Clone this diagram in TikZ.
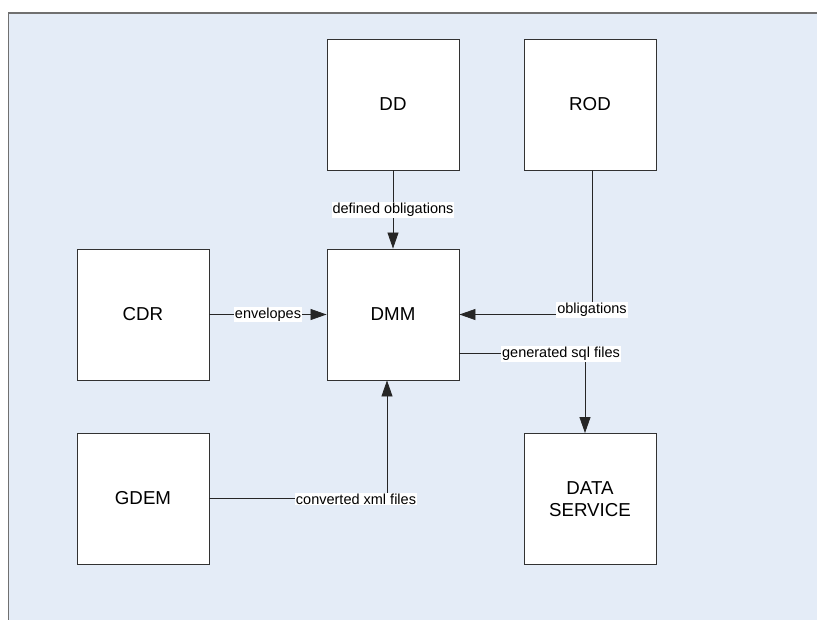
\documentclass[tikz,border=0pt]{standalone}
\usepackage{fontspec}
\setmainfont{Liberation Sans}
\usetikzlibrary{arrows.meta,calc}
\definecolor{panelblue}{RGB}{228,236,247}
\definecolor{panelline}{RGB}{112,112,112}
\definecolor{boxline}{RGB}{50,50,50}
\tikzset{
  block/.style={draw=boxline, line width=0.9pt, fill=white, minimum width=132pt,
    minimum height=131pt, inner sep=0pt, align=center, font=\fontsize{18.7}{21.6}\selectfont},
  flow/.style={draw=black!85, line width=0.8pt, -{Triangle[length=16pt,width=11pt]}},
  tag/.style={fill=white, inner sep=1pt, font=\fontsize{14.5}{16}\selectfont}
}
\begin{document}
\begin{tikzpicture}[x=1pt,y=-1pt]
\useasboundingbox (0,0) rectangle (817,619);
% panel
\fill[panelblue] (8.5,13) rectangle (820,622);
\draw[panelline, line width=1.3pt] (820,13) -- (8.5,13) -- (8.5,622);

% blocks
\node[block] (dd)   at (393,104.5) {DD};
\node[block] (rod)  at (590,104.5) {ROD};
\node[block] (cdr)  at (143,314.5) {CDR};
\node[block] (dmm)  at (393,314.5) {DMM};
\node[block] (gdem) at (143,498.5) {GDEM};
\node[block] (ds)   at (590,499)   {DATA\\SERVICE};

% connectors
\draw[flow] (dd.south) -- (dmm.north);
\node[tag] (l1) at (393,210) {defined obligations};

\coordinate (rodbend) at ($(rod.south)+(2,0)$);
\draw[flow] (rodbend) |- (dmm.east);
\node[tag] (l2) at (592,310) {obligations};

\draw[flow] (cdr.east) -- (dmm.west);
\node[tag] (l3) at (268,314.5) {envelopes};

\coordinate (dmmout) at ($(dmm.east)+(0,39)$);
\coordinate (dsin) at ($(ds.north)+(-5,0)$);
\draw[flow] (dmmout) -| (dsin);
\node[tag] (l4) at (561,354) {generated sql files};

\coordinate (dmmin) at ($(dmm.south)+(-6,0)$);
\draw[flow] (gdem.east) -| (dmmin);
\node[tag] (l5) at (356,499) {converted xml files};
\end{tikzpicture}
\end{document}
